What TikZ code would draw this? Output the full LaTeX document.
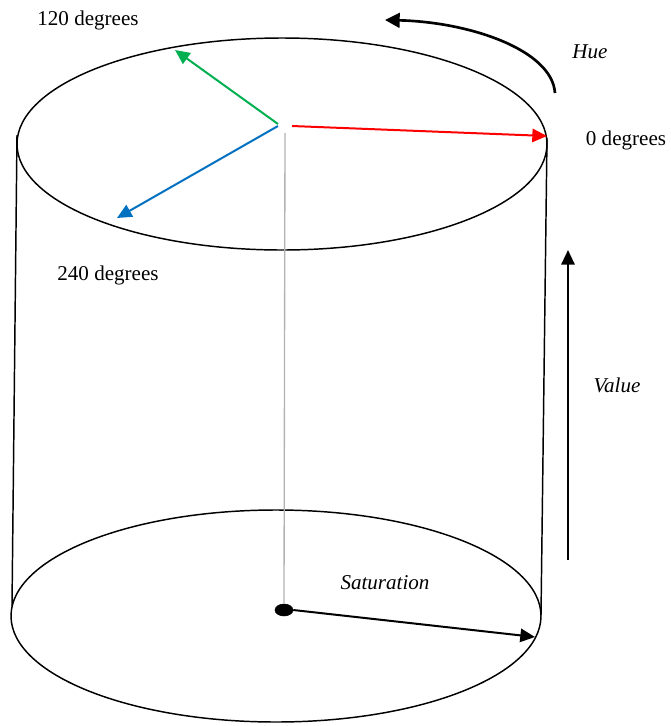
\documentclass[tikz,border=0pt]{standalone}
\usepackage{fontspec}
\setmainfont{Liberation Serif}
\usetikzlibrary{arrows.meta, shapes.geometric}
\definecolor{huegreen}{HTML}{00B050}
\definecolor{hueblue}{HTML}{0070C0}

\begin{document}
\begin{tikzpicture}[
    x=0.75pt, y=-0.75pt,
    disc/.style={
        draw, line width=1.1pt, ellipse,
        minimum width=397.5pt, minimum height=159pt, inner sep=0pt
    },
    ray/.style={
        line width=1.5pt, -{Triangle[length=11pt, width=10pt]}
    },
    lbl/.style={
        font=\fontsize{15.8}{19}\selectfont, inner sep=0pt
    },
    ilbl/.style={
        lbl, font=\fontsize{15.8}{19}\selectfont\itshape
    }
]
\useasboundingbox (0,0) rectangle (671,726);

% the two discs of the cylinder
\node[disc] (top) at (282,144) {};
\node[disc] (base) at (276,616) {};

% sides
\coordinate (topleft) at (17,135);
\coordinate (baseleft) at (12,606);
\coordinate (topright) at (547,138);
\coordinate (baseright) at (541,615);
\draw[line width=1.1pt] (topleft) -- (baseleft);
\draw[line width=1.1pt] (topright) -- (baseright);

% axis and hub
\coordinate (hub) at (285,133);
\node[draw, fill=black, ellipse, minimum width=13.5pt, minimum height=9pt, inner sep=0pt] (dot) at (284,610) {};
\draw[gray!60, line width=1pt] (hub) -- (dot.north);

% hue directions
\coordinate (redfrom) at (292,126);
\coordinate (redto) at (547,136);
\coordinate (greenfrom) at (278,124);
\coordinate (greento) at (175,50);
\coordinate (bluefrom) at (278,126);
\coordinate (blueto) at (117,218);
\draw[ray, red] (redfrom) -- (redto);
\draw[ray, huegreen] (greenfrom) -- (greento);
\draw[ray, hueblue] (bluefrom) -- (blueto);

% saturation
\coordinate (rim) at (535,637);
\draw[ray] (dot.east) -- (rim);

% hue turn
\coordinate (huefrom) at (555,93);
\coordinate (hueto) at (385,20);
\draw[line width=2pt, -{Triangle[length=11pt, width=11pt]}]
    (huefrom) .. controls (552,50) and (470,22) .. (hueto);

% value
\coordinate (valuefrom) at (568,560);
\coordinate (valueto) at (568,250);
\draw[ray] (valuefrom) -- (valueto);

% labels
\node[lbl] (deg0) at (626,140) {0 degrees};
\node[lbl] (deg120) at (88,20) {120 degrees};
\node[lbl] (deg240) at (108,275) {240 degrees};
\node[ilbl] (hue) at (590,52) {Hue};
\node[ilbl] (value) at (617,385) {Value};
\node[ilbl] (sat) at (385,583) {Saturation};
\end{tikzpicture}
\end{document}
